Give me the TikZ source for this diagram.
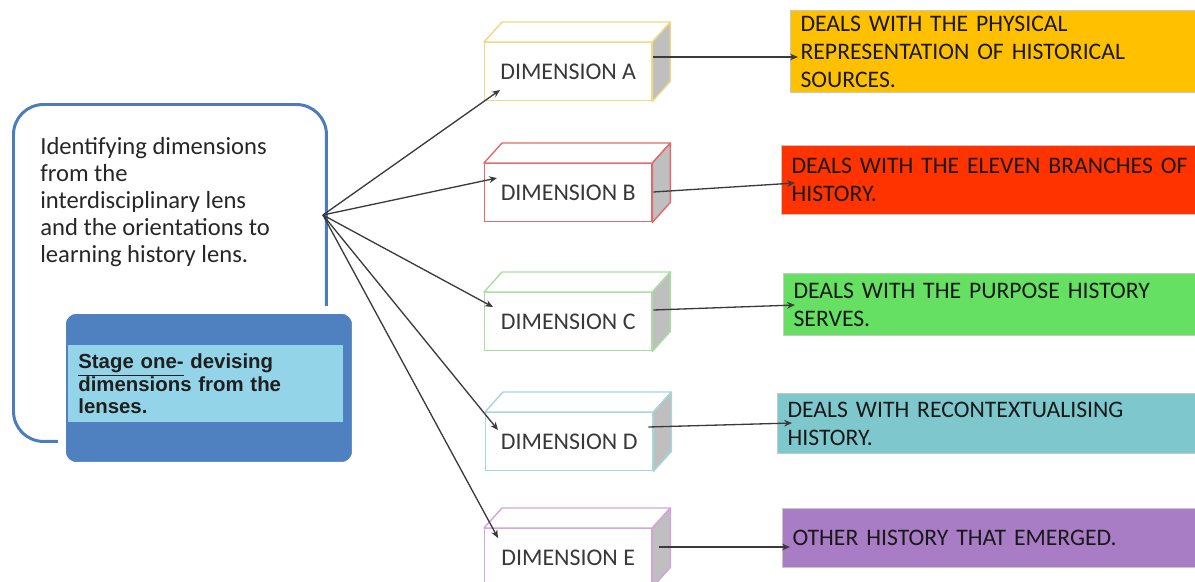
\documentclass[tikz,border=0pt]{standalone}
\usepackage{fontspec}
\setmainfont{Carlito}
\newfontfamily\stagefont{Liberation Sans}
\usetikzlibrary{calc,arrows.meta}

\definecolor{frameblue}{HTML}{4A7CBF}
\definecolor{stageblue}{HTML}{4F80BF}
\definecolor{bandcyan}{HTML}{93D4E8}
\definecolor{txtdark}{HTML}{262626}
\definecolor{txtgray}{HTML}{383838}
\definecolor{linegray}{HTML}{3A3A3A}
\definecolor{sidegray}{HTML}{BFBFBF}
\definecolor{edgeA}{HTML}{F0D886}
\definecolor{edgeB}{HTML}{E26A6A}
\definecolor{edgeC}{HTML}{A8DEA2}
\definecolor{edgeD}{HTML}{A6D6D9}
\definecolor{edgeE}{HTML}{D6A2DE}
\definecolor{fillA}{HTML}{FFC000}
\definecolor{fillB}{HTML}{FF3300}
\definecolor{fillC}{HTML}{66E063}
\definecolor{fillD}{HTML}{7EC8CD}
\definecolor{fillE}{HTML}{A97DC6}

\tikzset{
  frame/.style={draw=frameblue, line width=1.7pt, rounded corners=0.6cm,
    anchor=north west, minimum width=6.26cm, minimum height=6.74cm, inner sep=0pt},
  lenstext/.style={align=left, inner sep=0pt, text=txtdark,
    font=\fontsize{14}{15.3}\selectfont},
  stagebox/.style={fill=stageblue, draw=white, line width=4.5pt, rounded corners=0.28cm,
    anchor=north west, minimum width=5.88cm, minimum height=3.12cm, inner sep=0pt},
  band/.style={fill=bandcyan, anchor=north west, minimum width=5.5cm, minimum height=1.54cm,
    text width=5.1cm, inner xsep=0.2cm, inner ysep=0pt, align=left, text=black!88,
    font=\stagefont\bfseries\fontsize{11.6}{13}\selectfont},
  dimbox/.style={draw=#1, line width=0.8pt, fill=white, anchor=north west,
    minimum width=3.34cm, minimum height=1.16cm, inner sep=0pt, text=txtgray,
    font=\fontsize{13.6}{16}\selectfont},
  descbox/.style={fill=#1, draw=black!22, line width=0.6pt, anchor=north west,
    text width=8.4cm, inner xsep=0.2cm, inner ysep=0pt, align=left, text=black!90,
    font=\fontsize{13.5}{15.9}\selectfont},
  link/.style={draw=linegray, line width=0.75pt, -{Stealth[length=4.5pt,width=3.8pt]}},
}

\begin{document}
\begin{tikzpicture}[x=0.02cm, y=-0.02cm]
\useasboundingbox (0,0) rectangle (1195,581);
\clip (0,0) rectangle (1195,581);

% left panel: framed description and the stage label
\node[frame] (frame) at (12,103) {};
\node[lenstext, anchor=west] (lens) at (40,202)
  {Identifying dimensions\\from the\\interdisciplinary lens\\and the orientations to\\learning history lens.};
\node[stagebox] (stage) at (58,306) {};
\node[band] (stagetxt) at (68,345)
  {\underline{Stage one-} devising\\dimensions from the\\lenses.};
\coordinate (hub) at ($(frame.north east)+(-5,112)$);

% dimension cubes
\foreach \n/\c/\x/\y/\t in {dA/edgeA/484/42/A, dB/edgeB/484/163/B, dC/edgeC/484/292/C,
                             dD/edgeD/485/412/D, dE/edgeE/484/528/E} {
  \node[dimbox=\c] (\n) at (\x,\y) {DIMENSION \t};
  \draw[draw=\c, fill=white, line width=0.8pt, line join=round]
    (\n.north west) -- ++(18,-20) -- ($(\n.north east)+(18,-20)$) -- (\n.north east) -- cycle;
  \draw[draw=\c, fill=sidegray, line width=0.8pt, line join=round]
    (\n.north east) -- ++(18,-20) -- ($(\n.south east)+(18,-20)$) -- (\n.south east) -- cycle;
}

% description boxes
\node[descbox=fillA, minimum height=1.64cm] (rA) at (790,10)
  {DEALS WITH THE PHYSICAL\\REPRESENTATION OF HISTORICAL\\SOURCES.};
\node[descbox=fillB, minimum height=1.38cm] (rB) at (781,145)
  {DEALS WITH THE ELEVEN BRANCHES OF\\HISTORY.};
\node[descbox=fillC, minimum height=1.24cm] (rC) at (783,273)
  {DEALS WITH THE PURPOSE HISTORY\\SERVES.};
\node[descbox=fillD, minimum height=1.2cm] (rD) at (777,393)
  {DEALS WITH RECONTEXTUALISING\\HISTORY.};
\node[descbox=fillE, minimum height=1.18cm] (rE) at (782,508)
  {OTHER HISTORY THAT EMERGED.};

% connector end points
\coordinate (dA-in) at ($(dA.north west)+(16,48)$);
\coordinate (dB-in) at ($(dB.north west)+(13,15)$);
\coordinate (dC-in) at ($(dC.north west)+(9,15)$);
\coordinate (dD-in) at ($(dD.north west)+(13,18)$);
\coordinate (dE-in) at ($(dE.north west)+(14,10)$);

\coordinate (dA-out) at ($(dA.north east)+(1,15)$);
\coordinate (dB-out) at ($(dB.north east)+(1,29)$);
\coordinate (dC-out) at ($(dC.north east)+(1,18)$);
\coordinate (dD-out) at ($(dD.north east)+(-5,15)$);
\coordinate (dE-out) at ($(dE.north east)+(7,19)$);

\coordinate (rA-in) at ($(rA.north west)+(8,47)$);
\coordinate (rB-in) at ($(rB.north west)+(14,38)$);
\coordinate (rC-in) at ($(rC.north west)+(12,32)$);
\coordinate (rD-in) at ($(rD.north west)+(15,30)$);
\coordinate (rE-in) at ($(rE.north west)+(8,39)$);

% connectors
\foreach \k in {A,B,C,D,E} {
  \draw[link] (hub) -- (d\k-in);
  \draw[link] (d\k-out) -- (r\k-in);
}
\end{tikzpicture}
\end{document}
